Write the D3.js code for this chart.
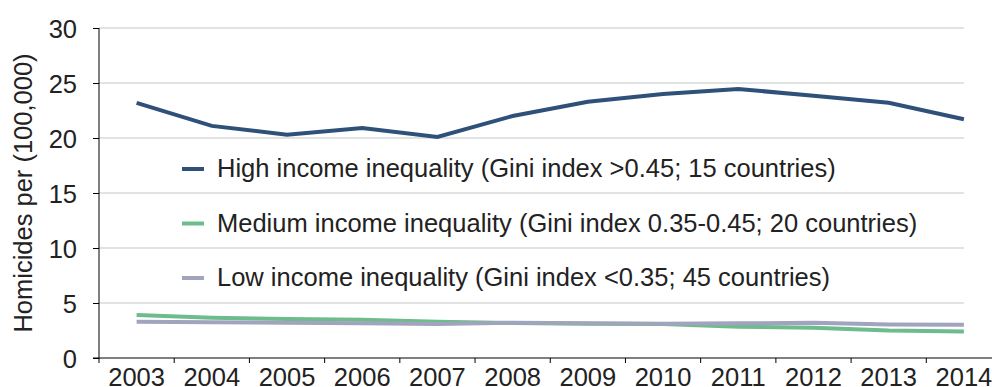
<!DOCTYPE html>
<html>
<head>
<meta charset="utf-8">
<script src="https://cdn.jsdelivr.net/npm/d3@7"></script>
<style>
  body { margin: 0; background: #fff; }
  svg text { font-family: "Liberation Sans", Arial, sans-serif; fill: #222; }
</style>
</head>
<body>
<svg id="chart" width="992" height="387"></svg>
<script>
// data
const years = ["2003","2004","2005","2006","2007","2008","2009","2010","2011","2012","2013","2014"];
const highIneq = [23.2, 21.1, 20.3, 20.9, 20.1, 22.0, 23.3, 24.0, 24.45, 23.85, 23.2, 21.7];
const mediumIneq = [3.9, 3.66, 3.55, 3.48, 3.3, 3.18, 3.12, 3.1, 2.85, 2.76, 2.5, 2.4];
const lowIneq = [3.3, 3.25, 3.2, 3.15, 3.1, 3.2, 3.15, 3.12, 3.15, 3.2, 3.05, 3.03];
const seriesNames = [
  "High income inequality (Gini index >0.45; 15 countries)",
  "Medium income inequality (Gini index 0.35-0.45; 20 countries)",
  "Low income inequality (Gini index <0.35; 45 countries)"
];
const yTicks = [0, 5, 10, 15, 20, 25, 30];

const colors = ["#2f5079", "#6dbc8b", "#a0a4bc"];
const series = [highIneq, mediumIneq, lowIneq].map((vals, i) => ({
  name: seriesNames[i], color: colors[i], values: vals
}));

const svg = d3.select("#chart");
const mLeft = 99, mTop = 28, mBottom = 358;
const gridRight = 964;
const fs = 25.5;

const x = d3.scaleBand().domain(years).range([mLeft, 1001.5]);
const y = d3.scaleLinear().domain([0, 30]).range([mBottom, mTop]);

// gridlines
svg.append("g")
  .selectAll("line")
  .data(yTicks.filter(d => d > 0))
  .join("line")
  .attr("x1", mLeft).attr("x2", gridRight)
  .attr("y1", d => y(d)).attr("y2", d => y(d))
  .attr("stroke", "#d9d9d9")
  .attr("stroke-width", 1.5);

// y axis
const yAxis = svg.append("g")
  .attr("transform", `translate(${mLeft},0)`)
  .call(d3.axisLeft(y).tickValues(yTicks).tickSize(6).tickPadding(16).tickFormat(d3.format("d")));
yAxis.selectAll("text").attr("font-size", fs).attr("font-family", null).attr("dy", "0.36em").attr("fill", null);
yAxis.selectAll("path, line").attr("stroke", "#000");
yAxis.select(".domain").attr("d", `M0,${mTop}V${mBottom}`);

// x axis with ticks between categories
const xAxis = svg.append("g")
  .attr("transform", `translate(0,${mBottom})`);
xAxis.append("line")
  .attr("x1", mLeft - 6).attr("x2", 992)
  .attr("stroke", "#000");
xAxis.selectAll(".tk")
  .data(years)
  .join("line")
  .attr("class", "tk")
  .attr("x1", d => x(d)).attr("x2", d => x(d))
  .attr("y1", 0).attr("y2", 5)
  .attr("stroke", "#000");
xAxis.selectAll("text")
  .data(years)
  .join("text")
  .attr("x", d => x(d) + x.bandwidth() / 2)
  .attr("y", 27.5)
  .attr("text-anchor", "middle")
  .attr("font-size", fs)
  .text(d => d);

// axis title
svg.append("text")
  .attr("transform", `translate(32,${(mTop + mBottom) / 2}) rotate(-90)`)
  .attr("text-anchor", "middle")
  .attr("font-size", fs)
  .text("Homicides per (100,000)");

// lines
const line = d3.line()
  .x((d, i) => x(years[i]) + x.bandwidth() / 2)
  .y(d => y(d));

svg.append("g")
  .selectAll("path")
  .data(series)
  .join("path")
  .attr("d", d => line(d.values))
  .attr("fill", "none")
  .attr("stroke", d => d.color)
  .attr("stroke-width", 4);

// legend
const legend = svg.append("g")
  .selectAll("g")
  .data(series)
  .join("g")
  .attr("transform", (d, i) => `translate(182,${169 + i * 54.5})`);
legend.append("line")
  .attr("x1", 0).attr("x2", 22)
  .attr("stroke", d => d.color)
  .attr("stroke-width", 4);
legend.append("text")
  .attr("x", 35)
  .attr("dy", "0.33em")
  .attr("font-size", fs)
  .text(d => d.name);
</script>
</body>
</html>
